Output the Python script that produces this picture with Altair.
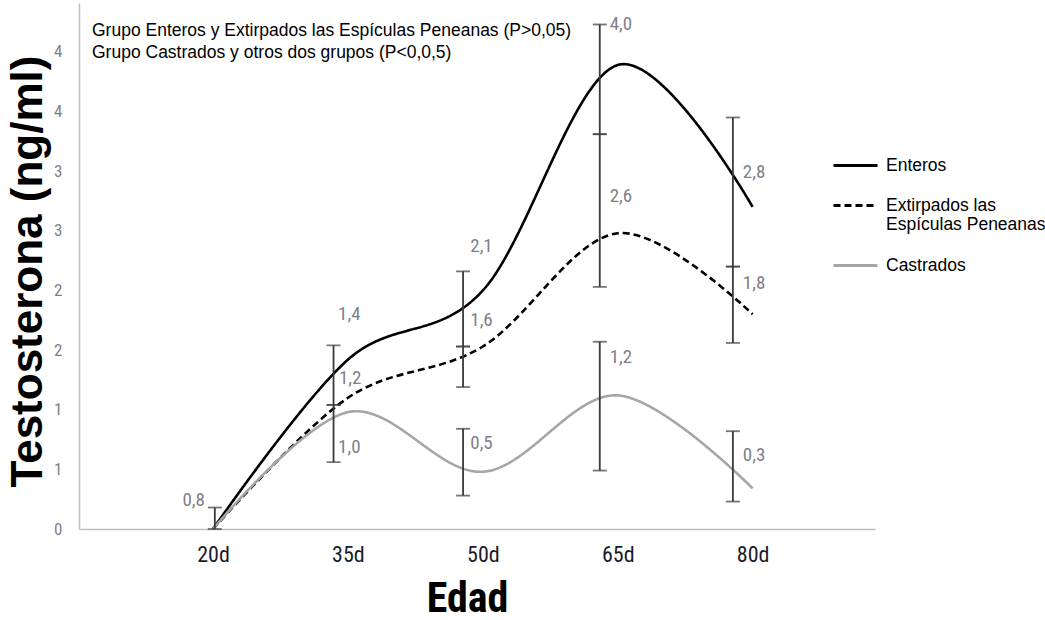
import altair as alt
import pandas as pd

# ---- data ----
days = [20, 35, 50, 65, 80]
tick_labels = ["20d", "35d", "50d", "65d", "80d"]
series_names = ["Enteros", "Extirpados las Espículas Peneanas", "Castrados"]
enteros = [0.0, 1.42, 2.0, 3.89, 2.70]
extirpados = [0.0, 1.10, 1.53, 2.48, 1.80]
castrados = [0.0, 0.98, 0.48, 1.12, 0.34]

# error bar segments (x in days, low, high)
err_x = [20.2, 33.4, 33.4, 47.8, 47.8, 47.8, 63.0, 63.0, 63.0, 77.8, 77.8, 77.8]
err_lo = [0.0, 1.04, 0.56, 1.53, 1.19, 0.28, 3.31, 2.03, 0.49, 2.20, 1.56, 0.23]
err_hi = [0.18, 1.54, 1.04, 2.16, 1.53, 0.84, 4.23, 3.31, 1.57, 3.45, 2.20, 0.82]

# value annotations
val_text = ["0,8", "1,4", "1,2", "1,0", "2,1", "1,6", "0,5", "4,0", "2,6", "1,2", "2,8", "1,8", "0,3"]
val_x = [16.6, 33.9, 34.0, 33.9, 48.6, 48.6, 48.6, 64.1, 64.1, 64.1, 78.9, 78.9, 78.9]
val_y = [0.24, 1.80, 1.27, 0.69, 2.37, 1.75, 0.72, 4.23, 2.79, 1.44, 2.99, 2.06, 0.62]

note_lines = [
    "Grupo Enteros y Extirpados las Espículas Peneanas (P>0,05)",
    "Grupo Castrados y otros dos grupos (P<0,0,5)",
]

rows = []
for name, vals in zip(series_names, [enteros, extirpados, castrados]):
    for d, v in zip(days, vals):
        rows.append({"day": d, "value": v, "grupo": name})
lines_df = pd.DataFrame(rows)
err_df = pd.DataFrame({"day": err_x, "lo": err_lo, "hi": err_hi})
caps_df = pd.DataFrame({"day": err_x + err_x, "v": err_lo + err_hi})
vals_df = pd.DataFrame({"day": val_x, "v": val_y, "t": val_text})

narrow = "Liberation Sans Narrow, Arial Narrow, Roboto Condensed, sans-serif"
sans = "Liberation Sans, Arial, sans-serif"

xscale = alt.Scale(domain=[5.1, 93.6], nice=False, zero=False)
yscale = alt.Scale(domain=[0, 4.41], nice=False)

x_axis = alt.Axis(
    values=days,
    labelExpr="datum.value + 'd'",
    title="Edad",
    titleFont="Liberation Sans Narrow, Arial Narrow, Roboto Condensed, Liberation Sans, sans-serif",
    titleFontSize=42,
    titleFontWeight="bold",
    titleColor="#000000",
    titleX=388,
    titleY=82,
    titleBaseline="alphabetic",
    titleAlign="center",
    labelFont=narrow,
    labelFontSize=22,
    labelColor="#1a1a2a",
    labelPadding=15,
    ticks=False,
    grid=False,
    domainColor="#bfbfbf",
    domainWidth=1.5,
)
y_axis = alt.Axis(
    values=[0, 0.5, 1, 1.5, 2, 2.5, 3, 3.5, 4],
    labelExpr="'' + ceil(datum.value)",
    title="Testosterona (ng/ml)",
    titleFont=sans,
    titleFontSize=44,
    titleFontWeight="bold",
    titleColor="#000000",
    titleAngle=270,
    titleX=-38,
    titleY=268,
    titleAlign="center",
    titleBaseline="alphabetic",
    labelFont=narrow,
    labelFontSize=17,
    labelColor="#7f7f88",
    labelPadding=17,
    ticks=False,
    grid=False,
    domainColor="#bfbfbf",
    domainWidth=1.5,
)

legend_kw = dict(
    title=None,
    orient="none",
    legendX=753,
    legendY=139,
    symbolType="stroke",
    symbolSize=1936,
    symbolStrokeWidth=3,
    labelFont=sans,
    labelFontSize=17.5,
    labelColor="#000000",
    labelOffset=7,
    labelLimit=300,
    rowPadding=8,
    labelExpr="datum.label == 'Extirpados las Espículas Peneanas' ? ['Extirpados las', 'Espículas Peneanas'] : datum.label",
)

lines = alt.Chart(lines_df).mark_line(interpolate="cardinal", strokeWidth=2.6).encode(
    x=alt.X("day:Q", scale=xscale, axis=x_axis),
    y=alt.Y("value:Q", scale=yscale, axis=y_axis),
    color=alt.Color(
        "grupo:N",
        scale=alt.Scale(domain=series_names, range=["#000000", "#000000", "#a6a6a6"]),
        sort=series_names,
        legend=alt.Legend(**legend_kw),
    ),
    strokeDash=alt.StrokeDash(
        "grupo:N",
        scale=alt.Scale(domain=series_names, range=[[1, 0], [7, 4], [1, 0]]),
        sort=series_names,
        legend=alt.Legend(**legend_kw),
    ),
)

err = alt.Chart(err_df).mark_rule(color="#3a3a3a", strokeWidth=1.8).encode(
    x=alt.X("day:Q", scale=xscale),
    y=alt.Y("lo:Q", scale=yscale),
    y2="hi:Q",
)
caps = alt.Chart(caps_df).mark_tick(color="#3a3a3a", orient="horizontal", size=14, thickness=1.8).encode(
    x=alt.X("day:Q", scale=xscale),
    y=alt.Y("v:Q", scale=yscale),
)
vals = alt.Chart(vals_df).mark_text(
    align="left", baseline="middle", font=narrow, fontSize=19, color="#7f7f88"
).encode(
    x=alt.X("day:Q", scale=xscale),
    y=alt.Y("v:Q", scale=yscale),
    text="t:N",
)
note = alt.Chart(pd.DataFrame({"a": [0]})).mark_text(
    text=note_lines, align="left", baseline="alphabetic", font=sans,
    fontSize=17.5, lineHeight=22, color="#000000"
).encode(x=alt.value(13), y=alt.value(33))

chart = alt.layer(lines, err, caps, vals, note).properties(
    width=796,
    height=526,
    autosize=alt.AutoSizeParams(type="none"),
    padding={"left": 79, "top": 3, "right": 170, "bottom": 91},
    background="white",
).configure_view(stroke=None)

chart.save("out.html", embed_options={"renderer": "svg", "actions": False})
